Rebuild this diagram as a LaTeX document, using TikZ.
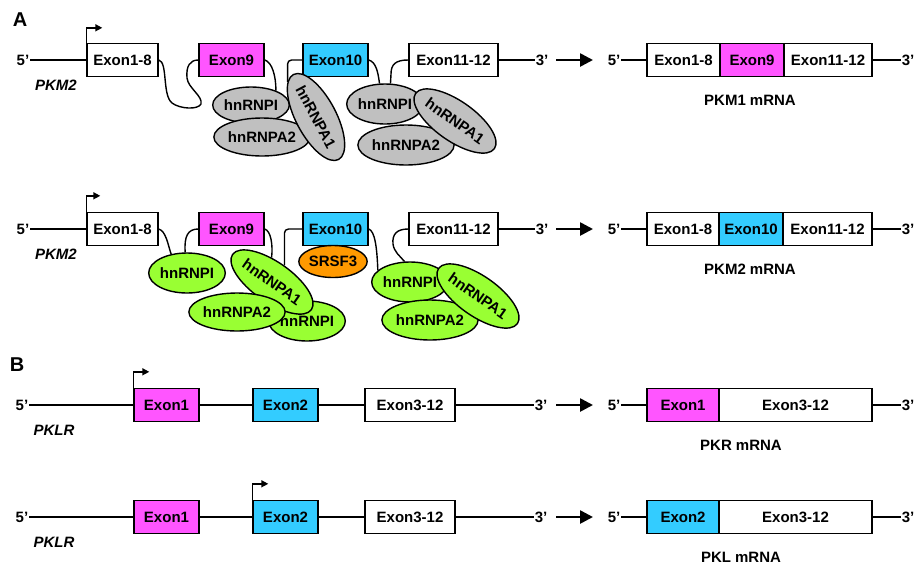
\documentclass[tikz,border=0pt]{standalone}
\usepackage{fontspec}
\setmainfont{Liberation Sans}
\usetikzlibrary{shapes.geometric,arrows.meta,backgrounds}
\definecolor{mag}{HTML}{FF55FF}
\definecolor{cya}{HTML}{33CCFF}
\definecolor{gry}{HTML}{C0C0C0}
\definecolor{grn}{HTML}{99FF33}
\definecolor{org}{HTML}{FF9900}
\begin{document}
\begin{tikzpicture}[x=1pt,y=-1pt,
  txt/.style={font=\fontsize{15}{18}\selectfont\bfseries, inner sep=1pt},
  gname/.style={font=\fontsize{15}{18}\selectfont\bfseries\itshape, inner sep=1pt},
  panel/.style={font=\fontsize{20}{24}\selectfont\bfseries, inner sep=0pt},
  exonbox/.style={draw, line width=1.4pt, minimum height=33pt, inner sep=0pt, fill=white,
    font=\fontsize{15}{18}\selectfont\bfseries},
  prot/.style={ellipse, draw, line width=1.4pt, inner sep=0pt,
    font=\fontsize{15}{18}\selectfont\bfseries},
  gp/.style={prot, fill=gry},
  np/.style={prot, fill=grn},
  gene/.style={line width=1.4pt},
  loopline/.style={line width=1.4pt},
  tss/.style={line width=1.4pt, -{Triangle[length=7pt,width=7pt]}},
  bigarrow/.style={line width=2.6pt, -{Triangle[length=13pt,width=13pt]}}
]
\useasboundingbox (0,0) rectangle (921,566);

% ---------------- panel labels
\node[panel] (labA) at (20,20) {A};
\node[panel] (labB) at (17,365) {B};

% ================= Row 1 (PKM1)
\node[txt] (r1five) at (23,60) {5'};
\node[gname] (r1name) at (56,85) {PKM2};
\node[exonbox, minimum width=71pt] (r1e18) at (122.5,60) {Exon1-8};
\node[exonbox, fill=mag, minimum width=65pt] (r1e9) at (231.5,60) {Exon9};
\node[exonbox, fill=cya, minimum width=65pt] (r1e10) at (335.5,60) {Exon10};
\node[exonbox, minimum width=89pt] (r1e1112) at (453.5,60) {Exon11-12};
\node[txt] (r1three) at (542,60) {3'};

\node[gp, minimum width=76pt, minimum height=36pt] (r1pI1) at (251,105) {hnRNPI};
\node[gp, minimum width=80pt, minimum height=38pt] (r1pA21) at (262,137) {hnRNPA2};
\node[gp, minimum width=84pt, minimum height=40pt, rotate=-62] (r1pA11) at (316,117) {hnRNPA1};
\node[gp, minimum width=74pt, minimum height=40pt] (r1pI2) at (385,104) {hnRNPI};
\node[gp, minimum width=80pt, minimum height=40pt] (r1pA22) at (406,145) {hnRNPA2};
\node[gp, minimum width=84pt, minimum height=40pt, rotate=-35] (r1pA12) at (455,121) {hnRNPA1};

\coordinate (r1as) at (556,60);
\coordinate (r1ae) at (593,60);
\draw[bigarrow] (r1as) -- (r1ae);

\node[txt] (r1mfive) at (614,60) {5'};
\node[exonbox, minimum width=73pt] (r1ma) at (683.5,60) {Exon1-8};
\node[exonbox, fill=mag, minimum width=64pt] (r1mb) at (752,60) {Exon9};
\node[exonbox, minimum width=88pt] (r1mc) at (828,60) {Exon11-12};
\node[txt] (r1mthree) at (908,60) {3'};
\node[txt] (r1mlab) at (750,100) {PKM1 mRNA};

% ================= Row 2 (PKM2)
\node[txt] (r2five) at (23,229) {5'};
\node[gname] (r2name) at (56,254) {PKM2};
\node[exonbox, minimum width=71pt] (r2e18) at (122.5,229) {Exon1-8};
\node[exonbox, fill=mag, minimum width=65pt] (r2e9) at (231.5,229) {Exon9};
\node[exonbox, fill=cya, minimum width=65pt] (r2e10) at (335.5,229) {Exon10};
\node[exonbox, minimum width=89pt] (r2e1112) at (453.5,229) {Exon11-12};
\node[txt] (r2three) at (542,229) {3'};

\node[prot, fill=org, minimum width=63pt, minimum height=32pt] (r2sr) at (333,261.5) {SRSF3};
\node[np, minimum width=74pt, minimum height=40pt] (r2pI1) at (187,273) {hnRNPI};
\node[np, minimum width=76pt, minimum height=40pt] (r2pI3) at (307,321) {hnRNPI};
\node[np, minimum width=88pt, minimum height=40pt, rotate=-35] (r2pA1) at (272,282) {hnRNPA1};
\node[np, minimum width=80pt, minimum height=38pt] (r2pA2) at (237,312) {hnRNPA2};
\node[np, minimum width=76pt, minimum height=40pt] (r2pI2) at (410,282) {hnRNPI};
\node[np, minimum width=82pt, minimum height=40pt] (r2pA2b) at (430,320) {hnRNPA2};
\node[np, minimum width=84pt, minimum height=40pt, rotate=-35] (r2pA1b) at (478,296) {hnRNPA1};

\coordinate (r2as) at (556,229);
\coordinate (r2ae) at (593,229);
\draw[bigarrow] (r2as) -- (r2ae);

\node[txt] (r2mfive) at (614,229) {5'};
\node[exonbox, minimum width=72pt] (r2ma) at (683,229) {Exon1-8};
\node[exonbox, fill=cya, minimum width=64pt] (r2mb) at (751,229) {Exon10};
\node[exonbox, minimum width=89pt] (r2mc) at (827.5,229) {Exon11-12};
\node[txt] (r2mthree) at (908,229) {3'};
\node[txt] (r2mlab) at (750,269) {PKM2 mRNA};

% ================= Row 3 (PKR)
\node[txt] (r3five) at (22,405) {5'};
\node[gname] (r3name) at (54,430) {PKLR};
\node[exonbox, fill=mag, minimum width=65pt] (r3e1) at (166.5,405) {Exon1};
\node[exonbox, fill=cya, minimum width=65pt] (r3e2) at (285.5,405) {Exon2};
\node[exonbox, minimum width=90pt] (r3e312) at (410,405) {Exon3-12};
\node[txt] (r3three) at (541,405) {3'};

\coordinate (r3as) at (556,405);
\coordinate (r3ae) at (593,405);
\draw[bigarrow] (r3as) -- (r3ae);

\node[txt] (r3mfive) at (614,405) {5'};
\node[exonbox, fill=mag, minimum width=72pt] (r3ma) at (683,405) {Exon1};
\node[exonbox, minimum width=153pt] (r3mb) at (795.5,405) {Exon3-12};
\node[txt] (r3mthree) at (908,405) {3'};
\node[txt] (r3mlab) at (741,445) {PKR mRNA};

% ================= Row 4 (PKL)
\node[txt] (r4five) at (22,517) {5'};
\node[gname] (r4name) at (54,542) {PKLR};
\node[exonbox, fill=mag, minimum width=65pt] (r4e1) at (166.5,517) {Exon1};
\node[exonbox, fill=cya, minimum width=65pt] (r4e2) at (285.5,517) {Exon2};
\node[exonbox, minimum width=90pt] (r4e312) at (410,517) {Exon3-12};
\node[txt] (r4three) at (541,517) {3'};

\coordinate (r4as) at (556,517);
\coordinate (r4ae) at (593,517);
\draw[bigarrow] (r4as) -- (r4ae);

\node[txt] (r4mfive) at (614,517) {5'};
\node[exonbox, fill=cya, minimum width=72pt] (r4ma) at (683,517) {Exon2};
\node[exonbox, minimum width=153pt] (r4mb) at (795.5,517) {Exon3-12};
\node[txt] (r4mthree) at (908,517) {3'};
\node[txt] (r4mlab) at (741,557) {PKL mRNA};

% ================= lines behind
\begin{scope}[on background layer]
  % promoter arrows
  \draw[tss] (r1e18.north west) -- ++(0,-15) -- ++(16,0);
  \draw[tss] (r2e18.north west) -- ++(0,-16) -- ++(14,0);
  \draw[tss] (r3e1.north west) -- ++(0,-16) -- ++(16,0);
  \draw[tss] (r4e2.north west) -- ++(0,-16) -- ++(16,0);
  % genomic lines
  \draw[gene] (r1five.east) -- (r1e18.west);
  \draw[gene] (r1e1112.east) -- (r1three.west);
  \draw[gene] (r2five.east) -- (r2e18.west);
  \draw[gene] (r2e1112.east) -- (r2three.west);
  \draw[gene] (r3five.east) -- (r3e1.west);
  \draw[gene] (r3e1.east) -- (r3e2.west);
  \draw[gene] (r3e2.east) -- (r3e312.west);
  \draw[gene] (r3e312.east) -- (r3three.west);
  \draw[gene] (r4five.east) -- (r4e1.west);
  \draw[gene] (r4e1.east) -- (r4e2.west);
  \draw[gene] (r4e2.east) -- (r4e312.west);
  \draw[gene] (r4e312.east) -- (r4three.west);
  % mRNA lines
  \draw[gene] (r1mfive.east) -- (r1ma.west);
  \draw[gene] (r1mc.east) -- (r1mthree.west);
  \draw[gene] (r2mfive.east) -- (r2ma.west);
  \draw[gene] (r2mc.east) -- (r2mthree.west);
  \draw[gene] (r3mfive.east) -- (r3ma.west);
  \draw[gene] (r3mb.east) -- (r3mthree.west);
  \draw[gene] (r4mfive.east) -- (r4ma.west);
  \draw[gene] (r4mb.east) -- (r4mthree.west);
  % row 1 loops
  \draw[loopline] (r1e18.east) .. controls (168,62) and (162,95) .. (172,103)
     .. controls (180,109) and (198,110) .. (201,104)
     .. controls (203,96) and (188,88) .. (187,78)
     .. controls (186,66) and (190,60) .. (r1e9.west);
  \draw[loopline] (r1e9.east) .. controls (272,62) and (276,76) .. (r1pI1.30);
  \draw[loopline, rounded corners=4pt] (r1pA11.191) |- (r1e10.west);
  \draw[loopline] (r1e10.east) .. controls (376,62) and (378,72) .. (r1pI2.105);
  \draw[loopline] (r1e1112.west) .. controls (396,60) and (391,64) .. (391,74) -- (r1pI2.75);
  % row 2 loops
  \draw[loopline] (r2e18.east) .. controls (166,231) and (168,245) .. (r2pI1.130);
  \draw[loopline] (r2pI1.95) .. controls (184,236) and (188,229) .. (r2e9.west);
  \draw[loopline] (r2e9.east) .. controls (271,231) and (273,245) .. (r2pA1.126);
  \draw[loopline, rounded corners=4pt] (r2pA1.88) |- (r2e10.west);
  \draw[loopline] (r2e10.east) .. controls (375,231) and (377,248) .. (r2pI2.160);
  \draw[loopline] (r2e1112.west) .. controls (397,229) and (392,234) .. (393,244)
     .. controls (394,252) and (400,256) .. (r2pI2.105);
\end{scope}
\end{tikzpicture}
\end{document}
